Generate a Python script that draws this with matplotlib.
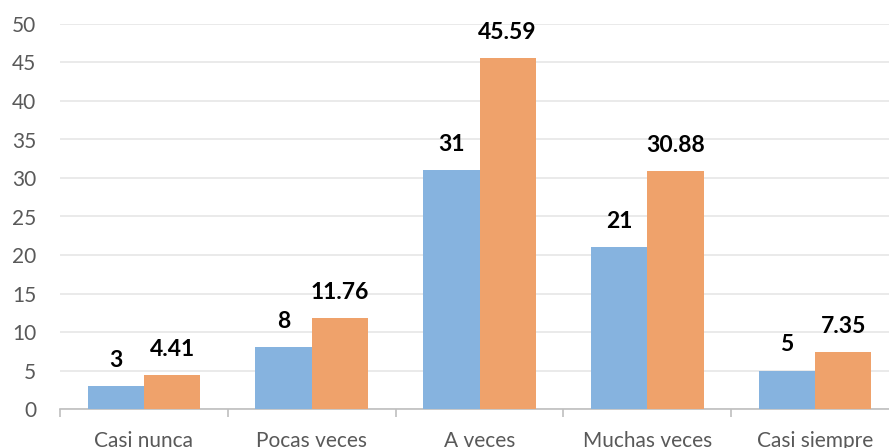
import numpy as np
import matplotlib.pyplot as plt

# categories and the two series
categories = ['Casi nunca', 'Pocas veces', 'A veces', 'Muchas veces', 'Casi siempre']
counts = [3, 8, 31, 21, 5]
percents = [4.41, 11.76, 45.59, 30.88, 7.35]
yticks = list(range(0, 55, 5))

blue = '#86B3DF'
orange = '#EFA26B'

plt.rcParams['font.family'] = ['Lato', 'DejaVu Sans']

fig = plt.figure(figsize=(8.89, 4.48), dpi=100)
# the source image is cropped on the right and bottom
ax = fig.add_axes([60 / 889, 39 / 448, 839 / 889, 385 / 448])

x = np.arange(len(categories))
w = 0.335
b1 = ax.bar(x - w / 2, counts, w, color=blue, zorder=3)
b2 = ax.bar(x + w / 2, percents, w, color=orange, zorder=3)

for bars, vals in ((b1, counts), (b2, percents)):
    for rect, v in zip(bars, vals):
        ax.annotate(f'{v:g}', xy=(rect.get_x() + rect.get_width() / 2, rect.get_height()),
                    xytext=(0, 11), textcoords='offset points', ha='center', va='bottom',
                    fontsize=16.5, fontweight='bold', color='#000000')

ax.set_xlim(-0.5, len(categories) - 0.5)
ax.set_ylim(0, 50)
ax.set_yticks(yticks)
ax.tick_params(axis='y', length=0, labelsize=15, labelcolor='#595959', pad=17)
ax.grid(axis='y', color='#E6E6E6', linewidth=1.2, zorder=0)

ax.set_xticks(x)
ax.set_xticklabels(categories)
ax.tick_params(axis='x', which='major', length=0, labelsize=15, labelcolor='#595959', pad=16)
ax.set_xticks(np.arange(-0.5, len(categories), 1), minor=True)
ax.tick_params(axis='x', which='minor', length=6, width=1.2, color='#BFBFBF')

for s in ('left', 'right', 'top'):
    ax.spines[s].set_visible(False)
ax.spines['bottom'].set_color('#BFBFBF')
ax.spines['bottom'].set_linewidth(1.2)

fig.savefig('out.png', dpi=100)
